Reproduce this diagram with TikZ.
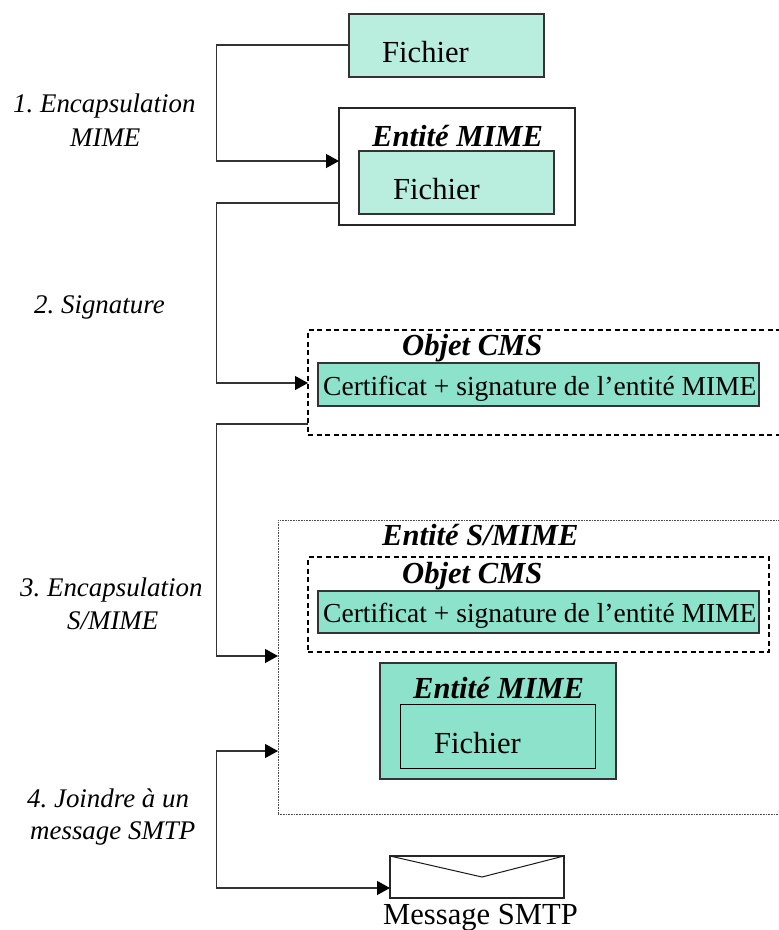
\documentclass[tikz,border=0pt]{standalone}
\usepackage{fontspec}
\setmainfont{Liberation Serif}
\frenchspacing
\usetikzlibrary{arrows.meta}
\tikzset{
  x=1bp,y=-1bp,
  boxx/.style={draw=#1,rectangle,inner sep=0,outer sep=0,anchor=north west},
  plainbox/.style={boxx=black!85,line width=1.1bp,fill=white},
  lightbox/.style={boxx=black!80,line width=1.2bp,fill=lightteal},
  darkbox/.style={boxx=black!80,line width=1.2bp,fill=darkteal},
  innerbox/.style={boxx=black,line width=.9bp},
  dashbox/.style={boxx=black,line width=1.3bp,dash pattern=on 5bp off 3.5bp},
  dotbox/.style={boxx=black!70,line width=.6bp,dash pattern=on .8bp off .8bp},
  rm/.style={font=\fontsize{27.6}{27.6}\selectfont,inner sep=0,anchor=base west},
  fich/.style={font=\fontsize{30.7}{30.7}\selectfont,inner sep=0,anchor=base west},
  bi/.style={font=\fontsize{30.7}{30.7}\selectfont\bfseries\itshape,inner sep=0,anchor=base west},
  lab/.style={font=\fontsize{27}{27}\selectfont\itshape,inner sep=0,anchor=base west},
  conn/.style={draw=black!80,line width=1.3bp},
  tipp/.tip={Triangle[length=13bp,width=14bp,color=black]},
  arr/.style={conn,-tipp},
  arrboth/.style={conn,tipp-tipp},
}
\definecolor{lightteal}{HTML}{B9EEDE}
\definecolor{darkteal}{HTML}{8CE2CA}
\begin{document}
\begin{tikzpicture}
\useasboundingbox (0,0) rectangle (779,930);
% top file
\node[lightbox,minimum width=195bp,minimum height=63bp] (f1) at (349,14) {};
\node[fich] (f1t) at (382,62) {Fichier};
% MIME entity
\node[plainbox,minimum width=236bp,minimum height=117bp] (em) at (339,108) {};
\node[bi] (emt) at (372,146) {Entité MIME};
\node[lightbox,minimum width=195bp,minimum height=63bp] (f2) at (359,151) {};
\node[fich] (f2t) at (393,199) {Fichier};
% CMS object
\node[dashbox,minimum width=490bp,minimum height=105bp] (c1) at (308,330) {};
\node[bi] (c1t) at (402,355) {Objet CMS};
\node[darkbox,minimum width=441bp,minimum height=43bp] (s1) at (318,363) {};
\node[rm] (s1t) at (323,395) {Certificat + signature de l’entité MIME};
% S/MIME entity
\node[dotbox,minimum width=520bp,minimum height=294bp] (sm) at (278,520) {};
\node[bi] (smt) at (382,545) {Entité S/MIME};
\node[dashbox,minimum width=461bp,minimum height=95bp] (c2) at (308,557) {};
\node[bi] (c2t) at (402,583) {Objet CMS};
\node[darkbox,minimum width=441bp,minimum height=42bp] (s2) at (318,591) {};
\node[rm] (s2t) at (323,622) {Certificat + signature de l’entité MIME};
\node[darkbox,minimum width=236bp,minimum height=116bp] (e2) at (380,663) {};
\node[bi] (e2l) at (413,698) {Entité MIME};
\node[innerbox,minimum width=195bp,minimum height=64bp] (f3) at (400,704) {};
\node[fich] (f3t) at (434,753) {Fichier};
% envelope
\node[plainbox,minimum width=174bp,minimum height=42bp] (env) at (390,856) {};
\coordinate (vee) at (482,877);
\draw[black!90,line width=1bp] (env.north west) -- (vee) -- (env.north east);
\node[fich] (envt) at (383,924) {Message SMTP};
% connectors
\coordinate (b1) at (216.5,45);
\coordinate (b2) at (216.5,161);
\coordinate (b3) at (216.5,203);
\coordinate (b4) at (216.5,383);
\coordinate (b5) at (216.5,424);
\coordinate (b6) at (216.5,656);
\coordinate (b7) at (216.5,751);
\coordinate (b8) at (216.5,888);
\draw[arr] (f1.west |- b1) -- (b1) -- (b2) -- (em.west |- b2);
\draw[arr] (em.west |- b3) -- (b3) -- (b4) -- (c1.west |- b4);
\draw[arr] (c1.west |- b5) -- (b5) -- (b6) -- (sm.west |- b6);
\draw[arrboth] (sm.west |- b7) -- (b7) -- (b8) -- (env.west |- b8);
% labels
\node[lab] (l1a) at (13,112.5) {1. Encapsulation};
\node[lab] (l1b) at (70,146.5) {MIME};
\node[lab] (l2) at (34,313) {2. Signature};
\node[lab] (l3a) at (20,596) {3. Encapsulation};
\node[lab] (l3b) at (67,629) {S/MIME};
\node[lab] (l4a) at (27,807) {4. Joindre à un};
\node[lab] (l4b) at (30,839) {message SMTP};
\end{tikzpicture}
\end{document}
